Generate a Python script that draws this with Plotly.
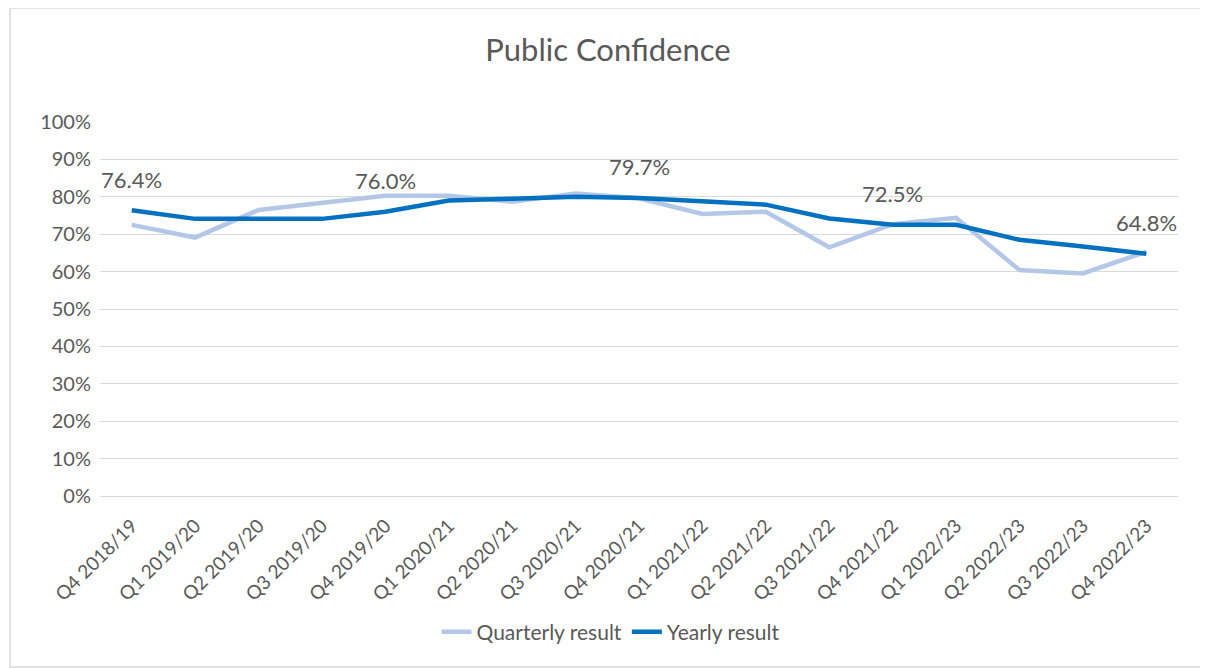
import plotly.graph_objects as go

categories = ["Q4 2018/19", "Q1 2019/20", "Q2 2019/20", "Q3 2019/20", "Q4 2019/20",
              "Q1 2020/21", "Q2 2020/21", "Q3 2020/21", "Q4 2020/21",
              "Q1 2021/22", "Q2 2021/22", "Q3 2021/22", "Q4 2021/22",
              "Q1 2022/23", "Q2 2022/23", "Q3 2022/23", "Q4 2022/23"]
quarterly = [0.725, 0.691, 0.765, 0.785, 0.803, 0.803, 0.787, 0.809, 0.796,
             0.754, 0.760, 0.665, 0.727, 0.744, 0.604, 0.595, 0.653]
yearly = [0.764, 0.741, 0.741, 0.741, 0.760, 0.790, 0.795, 0.800, 0.797,
          0.787, 0.779, 0.742, 0.725, 0.725, 0.685, 0.667, 0.648]
label_idx = [0, 4, 8, 12, 16]

FONT = "Lato"
GREY = "#595959"

W, H = 1200, 660
L, T, R, B = 92, 114, 30, 172
PW, PH = W - L - R, H - T - B

fig = go.Figure()
fig.add_trace(go.Scatter(x=categories, y=quarterly, mode="lines", name="Quarterly result",
                         line=dict(color="#B4C7E7", width=4.5)))
fig.add_trace(go.Scatter(x=categories, y=yearly, mode="lines", name="Yearly result",
                         line=dict(color="#0070C0", width=4.5)))

for i in label_idx:
    fig.add_annotation(x=categories[i], y=yearly[i], text=f"{yearly[i]*100:.1f}%",
                       showarrow=False, yshift=31,
                       font=dict(family=FONT, size=22, color=GREY))

# chart frame
fig.add_shape(type="rect", xref="paper", yref="paper",
              x0=(2 - L) / PW, x1=(W - 1 - L) / PW,
              y0=-(H - 1 - (H - B)) / PH, y1=(H - B) / PH,
              line=dict(color="#D9D9D9", width=1.5), fillcolor="rgba(0,0,0,0)", layer="below")

fig.update_layout(
    width=W, height=H,
    paper_bgcolor="white", plot_bgcolor="white",
    margin=dict(l=L, r=R, t=T, b=B),
    title=dict(text="Public Confidence", x=(608 - 8) / W, xanchor="center", y=1 - 42 / H, yanchor="middle",
               font=dict(family=FONT, size=31, color=GREY)),
    font=dict(family=FONT, color=GREY),
    legend=dict(orientation="h", x=(611 - 8 - L) / PW, xanchor="center", y=-(632 - 496) / PH, yanchor="middle",
                font=dict(family=FONT, size=21, color=GREY)),
    showlegend=True,
)
fig.update_xaxes(type="category", tickangle=-45, showgrid=False, showline=False,
                 ticks="", ticklabelstandoff=14, tickfont=dict(family=FONT, size=19, color=GREY),
                 range=[-0.5, len(categories) - 0.5])
fig.update_yaxes(range=[0, 1], dtick=0.1, tickformat=".0%", showgrid=True,
                 gridcolor="#D9D9D9", gridwidth=1, zeroline=True, zerolinecolor="#D9D9D9",
                 zerolinewidth=1, showline=False, ticks="", ticklabelstandoff=8,
                 tickfont=dict(family=FONT, size=20, color=GREY))

fig.write_html("out.html")
